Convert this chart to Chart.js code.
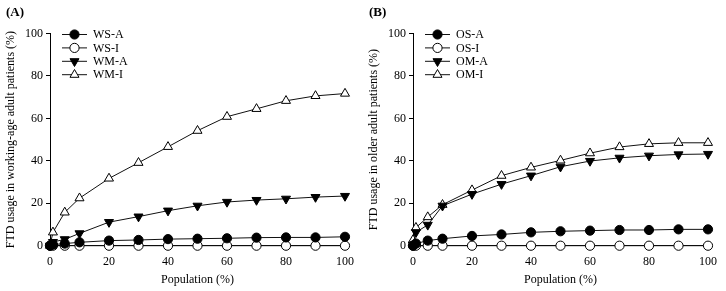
<!DOCTYPE html>
<html>
<head>
<meta charset="utf-8">
<script src="https://cdn.jsdelivr.net/npm/chart.js@4.4.0/dist/chart.umd.min.js"></script>
<style>
  body { margin: 0; background: #fff; }
  .panel { position: absolute; top: 0; width: 363px; height: 291px; }
  .tag { position: absolute; top: 4px; left: 6px; font: bold 13px "Liberation Serif", serif; }
</style>
</head>
<body>
<div class="panel" style="left:0"><canvas id="chartA" width="363" height="291"></canvas><div class="tag">(A)</div></div>
<div class="panel" style="left:363px"><canvas id="chartB" width="363" height="291"></canvas><div class="tag">(B)</div></div>
<script>
const population = [0, 1, 5, 10, 20, 30, 40, 50, 60, 70, 80, 90, 100];

// panel A - working-age adults
const wsA = [0, 0.5, 1.0, 1.6, 2.4, 2.7, 3.1, 3.3, 3.5, 3.8, 3.9, 3.9, 4.2];
const wsI = [0, 0, 0, 0, 0, 0, 0, 0, 0, 0, 0, 0, 0];
const wmA = [0, 1.7, 3.0, 5.8, 11.1, 13.7, 16.5, 18.8, 20.6, 21.5, 22.1, 22.9, 23.4];
const wmI = [0, 6.3, 15.7, 22.4, 31.7, 39.1, 46.6, 54.2, 60.8, 64.5, 68.3, 70.6, 71.7];

// panel B - older adults
const osA = [0, 1.0, 2.4, 3.3, 4.6, 5.3, 6.3, 6.8, 7.1, 7.4, 7.4, 7.7, 7.7];
const osI = [0, 0, 0, 0, 0, 0, 0, 0, 0, 0, 0, 0, 0];
const omA = [0.5, 6.3, 9.8, 18.8, 24.3, 29.0, 33.0, 37.2, 39.9, 41.4, 42.4, 43.0, 43.2];
const omI = [2.7, 8.5, 13.5, 19.3, 26.2, 33.0, 36.9, 40.2, 43.6, 46.5, 48.0, 48.5, 48.5];

const xTicks = [0, 20, 40, 60, 80, 100];
const yTicks = [0, 20, 40, 60, 80, 100];

const serif = '"Liberation Serif", "Times New Roman", serif';

// filled triangles point down, open ones point up
function series(label, values, style, filled) {
  const tri = style === 'triangle';
  return {
    label: label,
    data: population.map((x, i) => ({ x: x, y: values[i] })),
    borderColor: '#111',
    borderWidth: 1,
    pointStyle: style,
    pointRadius: tri ? 5.2 : 4.6,
    pointBackgroundColor: filled ? '#000' : '#fff',
    pointBorderColor: '#000',
    pointBorderWidth: 1,
    pointRotation: tri && filled ? 180 : 0,
    clip: false
  };
}

// legend drawn as line + marker, like the original figure
const lineLegend = {
  id: 'lineLegend',
  afterDraw(chart) {
    const ctx = chart.ctx;
    const x0 = chart.chartArea.left + 12;
    let y = chart.chartArea.top + 1;
    chart.data.datasets.forEach(ds => {
      ctx.save();
      ctx.strokeStyle = '#111';
      ctx.lineWidth = 1;
      ctx.beginPath();
      ctx.moveTo(x0, y);
      ctx.lineTo(x0 + 25, y);
      ctx.stroke();
      ctx.fillStyle = ds.pointBackgroundColor;
      ctx.strokeStyle = '#000';
      Chart.helpers.drawPoint(ctx, {
        pointStyle: ds.pointStyle,
        radius: ds.pointRadius,
        borderWidth: 1,
        rotation: ds.pointRotation
      }, x0 + 12.5, y);
      ctx.fillStyle = '#000';
      ctx.font = '12px ' + serif;
      ctx.textBaseline = 'middle';
      ctx.fillText(ds.label, x0 + 31, y + 0.5);
      ctx.restore();
      y += 13.4;
    });
  }
};

function makeChart(id, datasets, yTitle) {
  return new Chart(document.getElementById(id), {
    type: 'line',
    data: { datasets: datasets },
    options: {
      responsive: false,
      animation: false,
      layout: { padding: { top: 33.5, right: 17, left: 0, bottom: 0 } },
      plugins: { legend: { display: false }, tooltip: { enabled: false } },
      scales: {
        x: {
          type: 'linear',
          min: 0, max: 100,
          afterBuildTicks: s => { s.ticks = xTicks.map(v => ({ value: v })); },
          afterFit: s => { s.height = 291 - 245.7; },
          grid: { display: true, drawOnChartArea: false, drawTicks: false, color: '#000' },
          border: { color: '#000', width: 1 },
          ticks: { color: '#000', font: { family: serif, size: 12 }, padding: 9 },
          title: { display: true, text: 'Population (%)', color: '#000', font: { family: serif, size: 12 }, padding: { top: 4 } }
        },
        y: {
          type: 'linear',
          min: 0, max: 100,
          afterBuildTicks: s => { s.ticks = yTicks.map(v => ({ value: v })); },
          afterFit: s => { s.width = 50; },
          grid: { display: true, drawOnChartArea: false, tickLength: 4, color: '#000' },
          border: { color: '#000', width: 1 },
          ticks: { color: '#000', font: { family: serif, size: 12 }, padding: 3 },
          title: { display: true, text: yTitle, color: '#000', font: { family: serif, size: 12 }, padding: { top: 4, bottom: 0 } }
        }
      }
    },
    plugins: [lineLegend]
  });
}

makeChart('chartA', [
  series('WS-A', wsA, 'circle', true),
  series('WS-I', wsI, 'circle', false),
  series('WM-A', wmA, 'triangle', true),
  series('WM-I', wmI, 'triangle', false)
], 'FTD usage in working-age adult patients (%)');

makeChart('chartB', [
  series('OS-A', osA, 'circle', true),
  series('OS-I', osI, 'circle', false),
  series('OM-A', omA, 'triangle', true),
  series('OM-I', omI, 'triangle', false)
], 'FTD usage in older adult patients (%)');
</script>
</body>
</html>
